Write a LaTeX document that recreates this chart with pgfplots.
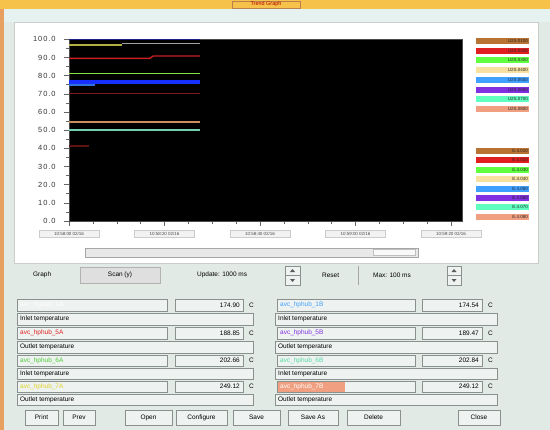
\documentclass[border=0pt]{standalone}
\usepackage{pgfplots}
\pgfplotsset{compat=1.18}
\usepackage{fontspec}
\setmainfont{Liberation Sans}
\definecolor{winbg}{HTML}{E2EAE6}
\definecolor{topband}{HTML}{E6F2F0}
\definecolor{titlebar}{HTML}{F6C24A}
\definecolor{frameor}{HTML}{E8A060}
\definecolor{fieldbg}{HTML}{EEF2F0}
\definecolor{fieldbd}{HTML}{8A908E}
\definecolor{lnavy}{HTML}{20208A}
\definecolor{lolive}{HTML}{B0B040}
\definecolor{lgray}{HTML}{A0A0A0}
\definecolor{lred}{HTML}{C82020}
\definecolor{lgreen}{HTML}{80E040}
\definecolor{lblue}{HTML}{1830FF}
\definecolor{llblue}{HTML}{3070E0}
\definecolor{ldred}{HTML}{7A1A1A}
\definecolor{ltan}{HTML}{C89060}
\definecolor{lteal}{HTML}{70D0B0}
\definecolor{lfred}{HTML}{601212}
\definecolor{c1}{HTML}{B87333}
\definecolor{c2}{HTML}{E02020}
\definecolor{c3}{HTML}{60FF40}
\definecolor{c4}{HTML}{F8E0A0}
\definecolor{c5}{HTML}{40A0FF}
\definecolor{c6}{HTML}{8030E0}
\definecolor{c7}{HTML}{60FFC0}
\definecolor{c8}{HTML}{F0A080}
\newcommand{\guif}{\fontsize{6.5}{7.5}\selectfont}
\newcommand{\fld}[6]{% x1 y1 x2 y2 text color
  \draw[fieldbd, fill=fieldbg, line width=0.5bp] (#1,#2) rectangle (#3,#4);
  \node[anchor=west, font=\guif, text=#6, inner sep=0pt] at ({#1+3},{(#2+#4)/2}) {#5};}
\newcommand{\vfld}[5]{% x1 y1 x2 y2 value
  \draw[fieldbd, fill=fieldbg, line width=0.5bp] (#1,#2) rectangle (#3,#4);
  \node[anchor=east, font=\guif, inner sep=0pt] at ({#3-3},{(#2+#4)/2}) {#5};
  \node[anchor=west, font=\guif, inner sep=0pt] at ({#3+6},{(#2+#4)/2}) {C};}
\newcommand{\btn}[5]{% x1 y1 x2 y2 text
  \draw[fieldbd, fill=fieldbg, line width=0.5bp] (#1,#2) rectangle (#3,#4);
  \node[font=\guif, inner sep=0pt] at ({(#1+#3)/2},{(#2+#4)/2}) {#5};}
\begin{document}
\begin{tikzpicture}
\begin{scope}[x=1bp,y=-1bp]
  \fill[winbg] (0,0) rectangle (550,430);
  \fill[frameor] (0,0) rectangle (4,430);
  \fill[titlebar] (0,0) rectangle (550,9);
  \draw[frameor!80!black, line width=0.4bp] (232,1) rectangle (300,8);
  \node[font=\fontsize{5.5}{6}\selectfont, text=red!70!black, inner sep=0pt] at (266,4.5) {Trend Graph};
  \fill[topband] (4,9) rectangle (550,22);
  \fill[white] (14,22) rectangle (538,263);
  \draw[gray!40, line width=0.5bp] (14,22) rectangle (538,263);
  % scrollbar
  \draw[gray!70, fill=gray!18, line width=0.5bp] (85,248) rectangle (418,257);
  \draw[gray!50, fill=gray!5, line width=0.4bp] (373,249.5) rectangle (415,255.5);
\end{scope}
\begin{axis}[at={(69bp,-221bp)}, anchor=south west,
  width=393bp, height=181.7bp, scale only axis,
  xmin=0, xmax=100, ymin=0, ymax=100,
  axis background/.style={fill=black},
  axis line style={draw=gray!60!black, line width=0.5bp},
  xtick pos=lower, ytick pos=left,
  tick align=outside,
  major tick length=5bp, minor tick length=3bp,
  every tick/.style={gray!80!black, line width=0.5bp},
  ytick={0,10,...,100}, minor y tick num=1,
  /pgf/number format/assume math mode=true,
  yticklabel style={/pgf/number format/.cd, fixed, fixed zerofill, precision=1, /tikz/.cd,
    font=\fontsize{7.5}{8.5}\selectfont\addfontfeatures{LetterSpace=12}, text=black!80, xshift=-5bp},
  xtick={0,24.3,48.6,72.9,97.2}, minor x tick num=3,
  xticklabels={10:58:00 02/16, 10:58:20 02/16, 10:58:40 02/16, 10:59:00 02/16, 10:59:20 02/16},
  xticklabel style={draw=gray!40, fill=gray!10, font=\fontsize{4.5}{5}\selectfont, text=black!70,
    minimum width=60bp, minimum height=7bp, inner sep=0.5pt, yshift=-4bp},
  clip=true]
\addplot[draw=lnavy, line width=1.4bp] coordinates {(0,99.8) (33.3,99.8)};
\addplot[draw=lolive, line width=1.4bp] coordinates {(0,96.9) (13.5,96.9)};
\addplot[draw=lgray, line width=1.4bp] coordinates {(13.5,97.8) (33.3,97.8)};
\addplot[draw=lred, line width=1.4bp] coordinates {(0,89.5) (20.6,89.5) (21.4,90.8) (33.3,90.8)};
\addplot[draw=lgreen, line width=1.6bp] coordinates {(0,81.2) (33.3,81.2)};
\addplot[draw=lblue, line width=3.4bp] coordinates {(0,76.4) (33.3,76.4)};
\addplot[draw=llblue, line width=2bp] coordinates {(0,75.0) (6.6,75.0)};
\addplot[draw=ldred, line width=1.4bp] coordinates {(0,70.2) (33.3,70.2)};
\addplot[draw=ltan, line width=1.4bp] coordinates {(0,54.5) (33.3,54.5)};
\addplot[draw=lteal, line width=1.4bp] coordinates {(0,50.0) (33.3,50.0)};
\addplot[draw=lfred, line width=1.2bp] coordinates {(0,41.3) (5.1,41.3)};
\end{axis}
\begin{scope}[x=1bp,y=-1bp]
  % legend group 1
  \foreach \c/\t [count=\i from 0] in {c1/U2S.0100,c2/U2S.0200,c3/U2S.0300,c4/U2S.0400,c5/U2S.0500,c6/U2S.0600,c7/U2S.0700,c8/U2S.0800}{
    \fill[\c] (476,{41+9.7*\i-3}) rectangle (529,{41+9.7*\i+3});
    \node[anchor=east, font=\fontsize{4.5}{5}\selectfont, text=black!85, inner sep=0pt] at (528,{41+9.7*\i}) {\t};
  }
  % legend group 2
  \foreach \c/\t [count=\i from 0] in {c1/E.4.010,c2/E.4.020,c3/E.4.030,c4/E.4.040,c5/E.4.050,c6/E.4.060,c7/E.4.070,c8/E.4.080}{
    \fill[\c] (476,{150.7+9.45*\i-3}) rectangle (529,{150.7+9.45*\i+3});
    \node[anchor=east, font=\fontsize{4.5}{5}\selectfont, text=black!85, inner sep=0pt] at (528,{150.7+9.45*\i}) {\t};
  }
  % controls row
  \node[anchor=west, font=\guif, inner sep=0pt] at (33,275) {Graph};
  \draw[gray!60, fill=gray!25, line width=0.5bp] (80,267) rectangle (160,283);
  \node[font=\guif, inner sep=0pt] at (120,275) {Scan (y)};
  \node[anchor=west, font=\guif, inner sep=0pt] at (197,275) {Update: 1000 ms};
  \draw[fieldbd, fill=fieldbg, line width=0.5bp] (285,266) rectangle (300,285);
  \draw[fieldbd, line width=0.4bp] (285,275.5) -- (300,275.5);
  \fill[gray!70!black] (290,272) -- (295,272) -- (292.5,269) -- cycle;
  \fill[gray!70!black] (290,279) -- (295,279) -- (292.5,282) -- cycle;
  \node[anchor=west, font=\guif, inner sep=0pt] at (322,275) {Reset};
  \draw[gray!70, line width=0.6bp] (358,266) -- (358,285);
  \node[anchor=west, font=\guif, inner sep=0pt] at (373,275) {Max: 100 ms};
  \draw[fieldbd, fill=fieldbg, line width=0.5bp] (447,266) rectangle (461,285);
  \draw[fieldbd, line width=0.4bp] (447,275.5) -- (461,275.5);
  \fill[gray!70!black] (451.5,272) -- (456.5,272) -- (454,269) -- cycle;
  \fill[gray!70!black] (451.5,279) -- (456.5,279) -- (454,282) -- cycle;
  % row B
  \fld{17}{299.5}{167}{311}{avc\_hphub\_1A}{white}
  \vfld{175}{299.5}{243}{311}{174.90}
  \fld{277}{299.5}{415}{311}{avc\_hphub\_1B}{c5}
  \vfld{422}{299.5}{482}{311}{174.54}
  % row C
  \fld{17}{313.5}{253}{325}{Inlet temperature}{black}
  \fld{275}{313.5}{497}{325}{Inlet temperature}{black}
  % row D
  \fld{17}{327.5}{167}{339}{avc\_hphub\_5A}{c2}
  \vfld{175}{327.5}{243}{339}{188.85}
  \fld{277}{327.5}{415}{339}{avc\_hphub\_5B}{c6}
  \vfld{422}{327.5}{482}{339}{189.47}
  % row E
  \fld{17}{341.5}{253}{353}{Outlet temperature}{black}
  \fld{275}{341.5}{497}{353}{Outlet temperature}{black}
  % row F
  \fld{17}{355}{167}{366.5}{avc\_hphub\_6A}{c3!80!black}
  \vfld{175}{355}{243}{366.5}{202.66}
  \fld{277}{355}{415}{366.5}{avc\_hphub\_6B}{c7!85!black}
  \vfld{422}{355}{482}{366.5}{202.84}
  % row G
  \fld{17}{368}{253}{379.5}{Inlet temperature}{black}
  \fld{275}{368}{497}{379.5}{Inlet temperature}{black}
  % row H
  \fld{17}{381}{167}{392.5}{avc\_hphub\_7A}{yellow!85!black}
  \vfld{175}{381}{243}{392.5}{249.12}
  \draw[fieldbd, fill=fieldbg, line width=0.5bp] (277,381) rectangle (415,392.5);
  \fill[c8] (277.5,381.5) rectangle (345,392);
  \node[anchor=west, font=\guif, text=white, inner sep=0pt] at (280,386.75) {avc\_hphub\_7B};
  \vfld{422}{381}{482}{392.5}{249.12}
  % row I
  \fld{17}{394}{253}{405.5}{Outlet temperature}{black}
  \fld{275}{394}{497}{405.5}{Outlet temperature}{black}
  % buttons
  \btn{25}{410}{58}{425}{Print}
  \btn{63}{410}{95}{425}{Prev}
  \btn{125}{410}{172}{425}{Open}
  \btn{176}{410}{227}{425}{Configure}
  \btn{233}{410}{280}{425}{Save}
  \btn{288}{410}{338}{425}{Save As}
  \btn{347}{410}{400}{425}{Delete}
  \btn{458}{410}{500}{425}{Close}
\end{scope}
\pgfresetboundingbox
\useasboundingbox (0,0) rectangle (550bp,-430bp);
\end{tikzpicture}
\end{document}
